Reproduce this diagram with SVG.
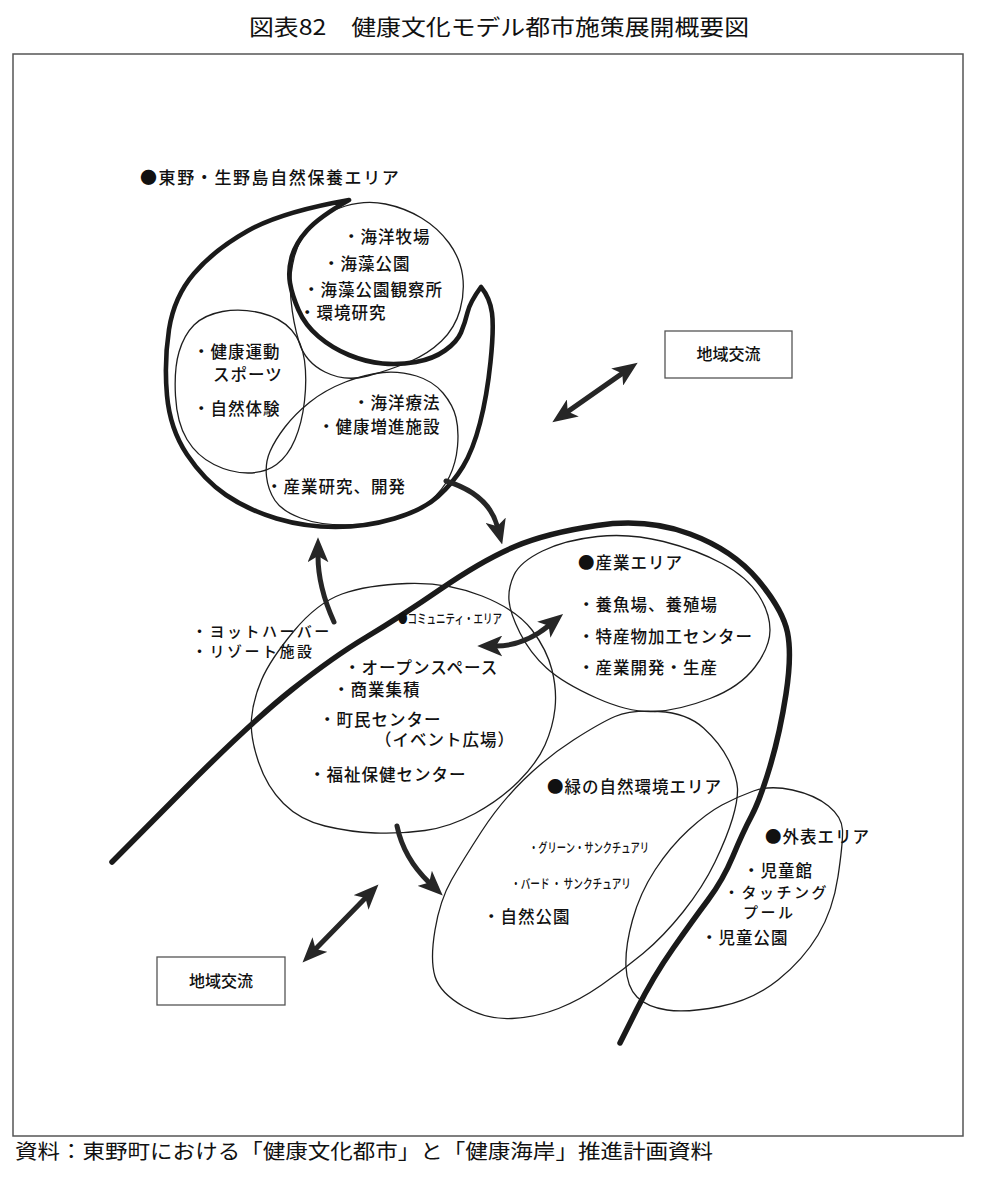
<svg xmlns="http://www.w3.org/2000/svg" width="982" height="1179" viewBox="0 0 982 1179">
<style>
.thin{fill:none;stroke:#1e1e1e;stroke-width:1.3}
.thick{fill:none;stroke:#1a1a1a;stroke-width:4.6;stroke-linejoin:round;stroke-linecap:round}
.coast{fill:none;stroke:#1a1a1a;stroke-width:5.5;stroke-linejoin:round;stroke-linecap:round}
.arrow{fill:none;stroke:#262626;stroke-width:5;stroke-linecap:round}
text{font-family:"Noto Sans CJK JP","Noto Sans CJK SC",sans-serif;fill:#111;font-weight:500}
.t{font-size:16.5px;letter-spacing:1px}
.n{font-size:15px;letter-spacing:2.5px}
.s{font-size:13px}
.reg{font-weight:400}
.box{fill:#fff;stroke:#555;stroke-width:1.3}
</style>
<defs>
<marker id="ah" viewBox="0 0 24 20" refX="6" refY="10" markerWidth="25" markerHeight="21" markerUnits="userSpaceOnUse" orient="auto-start-reverse"><path d="M0,0 L24,10 L0,20 L6,10 Z" fill="#262626"/></marker>
</defs>
<rect width="982" height="1179" fill="#fff"/>
<text class="reg" x="249" y="35" font-size="22" textLength="500" lengthAdjust="spacingAndGlyphs">図表82　健康文化モデル都市施策展開概要図</text>
<rect x="13" y="54" width="950" height="1082" fill="none" stroke="#555" stroke-width="1.5"/>
<text class="reg" x="15" y="1159" font-size="20" textLength="698" lengthAdjust="spacingAndGlyphs">資料：東野町における「健康文化都市」と「健康海岸」推進計画資料</text>

<g id="higashino-area">
<path class="thin" d="M345.5,206 Q366,200 385.5,204 Q405,208 421.5,218 Q438,228 449,243 Q460,258 462.5,275 Q465,292 460,310 Q455,328 441.5,341 Q428,354 409,362 Q390,370 367.5,376 Q345,382 325,372 Q305,362 299,342 Q293,322 291,300 Q289,278 294,258 Q299,238 312,225 Q325,212 345.5,206 Z"/>
<path class="thin" d="M222.5,311.5 Q241,308 261,313 Q281,318 291.5,330 Q302,342 304.5,360.5 Q307,379 304.5,401 Q302,423 295,439.5 Q288,456 276.5,464.5 Q265,473 248,473 Q231,473 214,464.5 Q197,456 187,439.5 Q177,423 175.5,396 Q174,369 179,352 Q184,335 194,325 Q204,315 222.5,311.5 Z"/>
<path class="thin" d="M266.5,476.5 Q265,463 270,451.5 Q275,440 285,427 Q295,414 310,402 Q325,390 345.5,382 Q366,374 383,372.5 Q400,371 416.5,376 Q433,381 443,393 Q453,405 456,417.5 Q459,430 457.5,446.5 Q456,463 449.5,476.5 Q443,490 429.5,501.5 Q416,513 394,519 Q372,525 345.5,525 Q319,525 300.5,518 Q282,511 275,500.5 Q268,490 266.5,476.5 Z"/>
<path class="thick" d="M349,200 Q281,212 247.5,231 Q214,250 194,273.5 Q174,297 169,329.5 Q164,362 167,395.5 Q170,429 187,454.5 Q204,480 226,495 Q248,510 276.5,518.5 Q305,527 335.5,527 Q366,527 394.5,518.5 Q423,510 438,496.5 Q453,483 463,466.5 Q473,450 480,423 Q487,396 490.5,362 Q494,328 492,313 Q490,298 481,287 Q470,302 467.5,312.5 Q465,323 461,332.5 Q457,342 445,350.5 Q433,359 416,362 Q399,365 382.5,363.5 Q366,362 349,355 Q332,348 318.5,336.5 Q305,325 298.5,310 Q292,295 290,283 Q288,271 291.5,257.5 Q295,244 307,230.5 Q319,217 349,200 Z"/>
<text x="140" y="184" font-size="17" letter-spacing="1.6">●東野・生野島自然保養エリア</text>
<text class="t" x="343" y="243">・海洋牧場</text>
<text class="t" x="323" y="270">・海藻公園</text>
<text class="t" x="303" y="296">・海藻公園観察所</text>
<text class="t" x="299" y="319">・環境研究</text>
<text class="t" x="193" y="358">・健康運動</text>
<text class="t" x="213" y="381">スポーツ</text>
<text class="t" x="193" y="415">・自然体験</text>
<text class="t" x="353" y="409">・海洋療法</text>
<text class="t" x="318" y="433">・健康増進施設</text>
<text class="t" x="266" y="493">・産業研究、開発</text>
</g>

<g id="coastline">
<path class="coast" d="M112,862 L181,792.5 Q250,723 291.5,690 Q333,657 366.5,637 Q400,617 441.5,588.5 Q483,560 515,546.5 Q547,533 597,525.5 Q647,518 690,534 Q733,550 758,580 Q783,610 787.5,632.5 Q792,655 786,694 Q780,733 770,766.5 Q760,800 751.5,816 Q743,832 733,856 Q723,880 708,900 Q693,920 673,948.5 Q653,977 636.5,1010 L620,1043"/>
</g>

<g id="resort">
<text class="n" x="192" y="637">・ヨットハーバー</text>
<text class="n" x="192" y="657">・リゾート施設</text>
</g>

<g id="community-area">
<path class="thin" d="M407,583.5 Q447,582 482,596 Q517,610 532,630 Q547,650 552,670 Q557,690 555,708.5 Q553,727 545,745 Q537,763 518.5,781.5 Q500,800 475,813.5 Q450,827 425,830.5 Q400,834 375,833 Q350,832 325,826 Q300,820 283.5,803.5 Q267,787 258.5,762 Q250,737 251.5,718.5 Q253,700 261.5,680 Q270,660 293.5,631.5 Q317,603 342,594 Q367,585 407,583.5 Z"/>
<text class="s" x="398" y="623" textLength="104" lengthAdjust="spacingAndGlyphs">●コミュニティ・エリア</text>
<text class="t" x="344" y="674">・オープンスペース</text>
<text class="t" x="333" y="696">・商業集積</text>
<text class="t" x="319" y="726">・町民センター</text>
<text class="t" x="375" y="746">（イベント広場）</text>
<text class="t" x="309" y="781">・福祉保健センター</text>
</g>

<g id="industry-area">
<path class="thin" d="M597.5,536.5 Q630,533 663.5,541.5 Q697,550 722,563.5 Q747,577 758.5,595 Q770,613 770,630 Q770,647 755,667 Q740,687 710,698.5 Q680,710 655,711.5 Q630,713 596.5,698 Q563,683 546.5,668 Q530,653 520,633 Q510,613 509,600.5 Q508,588 514,575 Q520,562 542.5,551 Q565,540 597.5,536.5 Z"/>
<text class="t" x="578" y="569">●産業エリア</text>
<text class="t" x="578" y="611">・養魚場、養殖場</text>
<text class="t" x="578" y="643">・特産物加工センター</text>
<text class="t" x="578" y="674">・産業開発・生産</text>
</g>

<g id="green-area">
<path class="thin" d="M615,716.5 Q630,710 658.5,711.5 Q687,713 703.5,728 Q720,743 728.5,760 Q737,777 737.5,788.5 Q738,800 732.5,818.5 Q727,837 715,862 Q703,887 683,912 Q663,937 643,953.5 Q623,970 601.5,985 Q580,1000 558.5,1008.5 Q537,1017 512,1018.5 Q487,1020 463.5,1006.5 Q440,993 435,976.5 Q430,960 435,930 Q440,900 451.5,880 Q463,860 481.5,831.5 Q500,803 523.5,780 Q547,757 573.5,740 Q600,723 615,716.5 Z"/>
<text class="t" x="547" y="793">●緑の自然環境エリア</text>
<text class="s" x="529" y="852" textLength="120" lengthAdjust="spacingAndGlyphs">・グリーン・サンクチュアリ</text>
<text class="s" x="511" y="888" textLength="120" lengthAdjust="spacingAndGlyphs">・バード ・ サンクチュアリ</text>
<text class="t" x="483" y="923">・自然公園</text>
</g>

<g id="outer-area">
<path class="thin" d="M753.5,791 Q770,785 792.5,790 Q815,795 828.5,806 Q842,817 842.5,830 Q843,843 838,876.5 Q833,910 818,935 Q803,960 778,980 Q753,1000 720,1006.5 Q687,1013 667,1010 Q647,1007 637,997 Q627,987 626,967 Q625,947 632.5,920 Q640,893 655,870 Q670,847 688.5,830 Q707,813 722,805 Q737,797 753.5,791 Z"/>
<text class="t" x="765" y="843">●外表エリア</text>
<text class="t" x="743" y="877">・児童館</text>
<text class="n" x="724" y="898">・タッチング</text>
<text class="n" x="743" y="918">プール</text>
<text class="t" x="701" y="944">・児童公園</text>
</g>

<g id="exchange-top">
<rect class="box" x="665" y="331" width="127" height="47"/>
<text x="728.5" y="360" font-size="16" text-anchor="middle">地域交流</text>
</g>
<g id="exchange-bottom">
<rect class="box" x="157" y="957" width="128" height="48"/>
<text x="221" y="987" font-size="16" text-anchor="middle">地域交流</text>
</g>

<g id="connectors">
<path class="arrow" d="M446,481 C472,489 491,503 497.3,526.3" marker-end="url(#ah)"/>
<path class="arrow" d="M334,622 C324,600 318,580 318,556" marker-end="url(#ah)"/>
<path class="arrow" d="M397,826 C402,850 414,868 429.2,882.6" marker-end="url(#ah)"/>
<path class="arrow" d="M496,646 C516,646 535,637 548.6,625.8" marker-start="url(#ah)" marker-end="url(#ah)"/>
<path class="arrow" d="M567.7,411.6 L622.3,373.4" marker-start="url(#ah)" marker-end="url(#ah)"/>
<path class="arrow" d="M315.6,949.1 L365.4,897.9" marker-start="url(#ah)" marker-end="url(#ah)"/>
</g>
</svg>
